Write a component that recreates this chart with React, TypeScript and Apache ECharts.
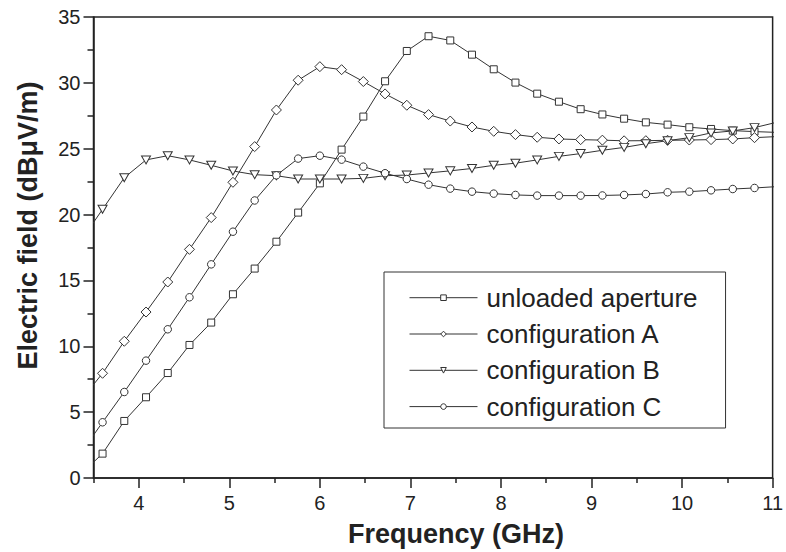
import React, { useEffect, useRef } from "react";
import * as echarts from "echarts";

// Frequency (GHz); first and last points lie just outside the axis range (clipped)
const freq = [3.36, 3.6, 3.84, 4.08, 4.32, 4.56, 4.8, 5.04, 5.28, 5.52, 5.76, 6.0, 6.24, 6.48, 6.72, 6.96, 7.2, 7.44, 7.68, 7.92, 8.16, 8.4, 8.64, 8.88, 9.12, 9.36, 9.6, 9.84, 10.08, 10.32, 10.56, 10.8, 11.04];

const unloadedAperture = [0.3, 1.85, 4.33, 6.13, 7.97, 10.1, 11.8, 13.95, 15.9, 17.94, 20.15, 22.37, 24.93, 27.44, 30.12, 32.42, 33.54, 33.22, 32.14, 31.03, 30.02, 29.18, 28.57, 28.0, 27.6, 27.28, 27.0, 26.83, 26.63, 26.5, 26.37, 26.3, 26.24];
const configA = [5.9, 7.95, 10.38, 12.6, 14.88, 17.36, 19.77, 22.45, 25.16, 27.94, 30.2, 31.23, 31.0, 30.1, 29.16, 28.3, 27.59, 27.1, 26.65, 26.32, 26.07, 25.87, 25.74, 25.69, 25.65, 25.6, 25.61, 25.64, 25.66, 25.69, 25.74, 25.84, 25.92];
const configB = [18.0, 20.4, 22.8, 24.15, 24.47, 24.15, 23.74, 23.31, 23.03, 22.95, 22.7, 22.7, 22.7, 22.75, 22.95, 23.0, 23.16, 23.32, 23.5, 23.74, 23.9, 24.15, 24.42, 24.63, 24.88, 25.1, 25.38, 25.61, 25.84, 26.2, 26.35, 26.6, 27.0];
const configC = [1.9, 4.23, 6.53, 8.91, 11.29, 13.72, 16.22, 18.7, 21.07, 22.98, 24.25, 24.47, 24.17, 23.64, 23.14, 22.7, 22.27, 21.97, 21.74, 21.59, 21.49, 21.44, 21.44, 21.44, 21.45, 21.49, 21.56, 21.69, 21.74, 21.84, 21.94, 22.02, 22.12];

const seriesNames = ["unloaded aperture", "configuration A", "configuration B", "configuration C"];
const xMajorTicks = [4, 5, 6, 7, 8, 9, 10, 11];
const xMinorTicks = [3.5, 4.5, 5.5, 6.5, 7.5, 8.5, 9.5, 10.5];

const INK = "#222";
const FONT = "'Liberation Sans', Arial, Helvetica, sans-serif";

function pairs(ys: number[]) {
  return freq.map((f, i) => [f, ys[i]]);
}

export default function App() {
  const ref = useRef<HTMLDivElement>(null);
  useEffect(() => {
    if (!ref.current) return;
    const chart = echarts.init(ref.current, null, { renderer: "svg" });
    const base = {
      type: "line",
      showAllSymbol: true,
      clip: true,
      lineStyle: { color: "#333", width: 1 },
      itemStyle: { color: "#fff", borderColor: "#333", borderWidth: 1 },
      emphasis: { disabled: true },
    };
    chart.setOption({
      animation: false,
      backgroundColor: "#fff",
      grid: {
        left: 93.5,
        right: 7,
        top: 17,
        bottom: 74,
        show: true,
        borderColor: INK,
        borderWidth: 1.5,
        backgroundColor: "transparent",
      },
      legend: {
        orient: "vertical",
        left: 384,
        top: 272,
        padding: [11.7, 28, 7.4, 25],
        itemGap: 8.3,
        itemWidth: 68,
        itemHeight: 7,
        borderColor: "#333",
        borderWidth: 1,
        backgroundColor: "#fff",
        selectedMode: false,
        itemStyle: { color: "#fff", borderColor: "#333", borderWidth: 1 },
        lineStyle: { color: "#333", width: 1 },
        textStyle: { fontFamily: FONT, fontSize: 26, lineHeight: 28, color: INK, padding: [0, 0, 0, 4] },
        data: seriesNames,
      },
      xAxis: [
        {
          type: "value",
          min: 3.5,
          max: 11,
          name: "Frequency (GHz)",
          nameLocation: "middle",
          nameGap: 42,
          nameTextStyle: { fontFamily: FONT, fontSize: 27, fontWeight: "bold", color: INK, padding: [0, 0, 0, 46] },
          axisLine: { show: true, lineStyle: { color: INK, width: 1.5 } },
          axisTick: { show: true, inside: false, length: 10, lineStyle: { color: INK, width: 1.5 }, customValues: xMajorTicks },
          axisLabel: { show: true, margin: 15, fontFamily: FONT, fontSize: 20, color: INK, customValues: xMajorTicks },
          splitLine: { show: false },
        },
        {
          type: "value",
          min: 3.5,
          max: 11,
          position: "bottom",
          axisLine: { show: false },
          axisTick: { show: true, inside: false, length: 5, lineStyle: { color: INK, width: 1.5 }, customValues: xMinorTicks },
          axisLabel: { show: false },
          splitLine: { show: false },
        },
      ],
      yAxis: {
        type: "value",
        min: 0,
        max: 35,
        interval: 5,
        name: "Electric field (dB\u03bcV/m)",
        nameLocation: "middle",
        nameGap: 52,
        nameTextStyle: { fontFamily: FONT, fontSize: 27, fontWeight: "bold", color: INK, padding: [0, 0, 0, 44] },
        axisLine: { show: true, lineStyle: { color: INK, width: 1.5 } },
        axisTick: { show: true, inside: false, length: 10, lineStyle: { color: INK, width: 1.5 } },
        minorTick: { show: true, splitNumber: 2, length: 6, lineStyle: { color: INK, width: 1.5 } },
        axisLabel: { margin: 13, fontFamily: FONT, fontSize: 20, color: INK },
        splitLine: { show: false },
        minorSplitLine: { show: false },
      },
      series: [
        { ...base, name: seriesNames[0], data: pairs(unloadedAperture), symbol: "rect", symbolSize: 7 },
        { ...base, name: seriesNames[1], data: pairs(configA), symbol: "diamond", symbolSize: 10 },
        { ...base, name: seriesNames[2], data: pairs(configB), symbol: "triangle", symbolRotate: 180, symbolSize: [9, 8] },
        { ...base, name: seriesNames[3], data: pairs(configC), symbol: "circle", symbolSize: 7.5 },
      ],
    });
    return () => chart.dispose();
  }, []);
  return <div ref={ref} style={{ width: 786, height: 552, position: "absolute", left: 0, top: 0 }} />;
}
